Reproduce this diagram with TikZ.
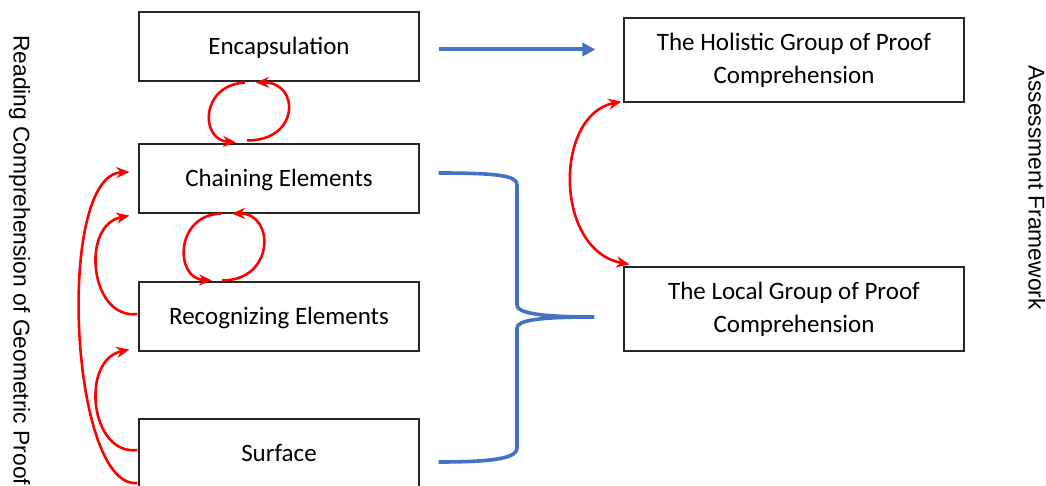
\documentclass[tikz,border=0pt]{standalone}
\usepackage{fontspec}
\setmainfont{Carlito}
\newfontfamily\arialfont{Liberation Sans}
\usetikzlibrary{arrows.meta,calc}
\definecolor{msblue}{RGB}{68,114,196}
\definecolor{msred}{RGB}{255,0,0}
\begin{document}
\begin{tikzpicture}[x=1pt,y=-1pt,
  box/.style={draw=black!85,line width=1.2pt,minimum width=280pt,minimum height=69pt,inner sep=0pt,
    font=\fontsize{25}{33}\selectfont,align=center},
  onebox/.style={box,text height=16pt,text depth=0pt},
  bigbox/.style={box,minimum width=340pt,minimum height=84pt},
  redarc/.style={draw=msred,line width=2.6pt,-{Stealth[length=13pt,width=11pt]}},
  redboth/.style={draw=msred,line width=2.6pt,{Stealth[length=13pt,width=11pt]}-{Stealth[length=13pt,width=11pt]}},
  bluearrow/.style={draw=msblue,line width=4pt,-{Triangle[length=13pt,width=13pt]}},
  bluebrace/.style={draw=msblue,line width=3.6pt},
  vtext/.style={font=\arialfont\fontsize{22.8}{26}\selectfont,rotate=-90,anchor=base west,inner sep=0pt}]
\useasboundingbox (0,0) rectangle (1046,486);
\clip (0,0) rectangle (1046,486);
\fill[white] (0,0) rectangle (1046,486);

\node[onebox] (enc) at (279,46.5) {Encapsulation};
\node[onebox] (chain) at (279,178.5) {Chaining Elements};
\node[onebox] (recog) at (279,316.5) {Recognizing Elements};
\node[onebox] (surf) at (279,453.5) {Surface};
\node[bigbox] (hol) at (794,60) {The Holistic Group of Proof\\Comprehension};
\node[bigbox] (loc) at (794,309) {The Local Group of Proof\\Comprehension};

\node[vtext] (lt) at (13.5,35) {Reading Comprehension of Geometric Proof};
\node[vtext] (rt) at (1028.5,65) {Assessment Framework};

% blue arrow
\draw[bluearrow] ($(enc.east)+(19,3)$) -- ($(hol.west)+(-28,-10.5)$);

% blue brace
\draw[bluebrace] ($(chain.east)+(19,-5.5)$) .. controls +(62,0) and (517,176) .. (517,185)
  -- (517,305) .. controls (517,313) and (540,317) .. ($(loc.west)+(-29,8)$)
  .. controls (540,317) and (517,320) .. (517,328)
  -- (517,448) .. controls (517,457) and (500,462) .. ($(surf.east)+(19,8.5)$);

% loops between Encapsulation and Chaining
\draw[redarc] ($(enc.south)+(-34,1)$) .. controls (200,85) and (200,140) .. ($(chain.north)+(-43,-1)$);
\draw[redarc] ($(chain.north)+(-32,-3)$) .. controls (300,141) and (300,82) .. ($(enc.south)+(-23,1)$);

% loops between Chaining and Recognizing
\draw[redarc] ($(chain.south)+(-58,0)$) .. controls (174.5,215) and (174.5,279) .. ($(recog.north)+(-67,-1)$);
\draw[redarc] ($(recog.north)+(-57,-1)$) .. controls (275,281) and (275,213) .. ($(chain.south)+(-47,0)$);

% left arcs
\draw[redarc] ($(recog.west)+(-1,-2.5)$) .. controls (90,320) and (80,225) .. ($(chain.south west)+(-9,2)$);
\draw[redarc] ($(surf.west)+(-1,-3.5)$) .. controls (90,456) and (80,360) .. ($(recog.south west)+(-9,-2)$);
\draw[redarc] ($(surf.west)+(-1,29.5)$) .. controls (70,490) and (55,175) .. ($(chain.west)+(-9,-6.5)$);

% right arc
\draw[redboth] ($(hol.south west)+(-2,-1)$) .. controls (554,115) and (554,250) .. ($(loc.north west)+(6,-2)$);
\end{tikzpicture}
\end{document}
